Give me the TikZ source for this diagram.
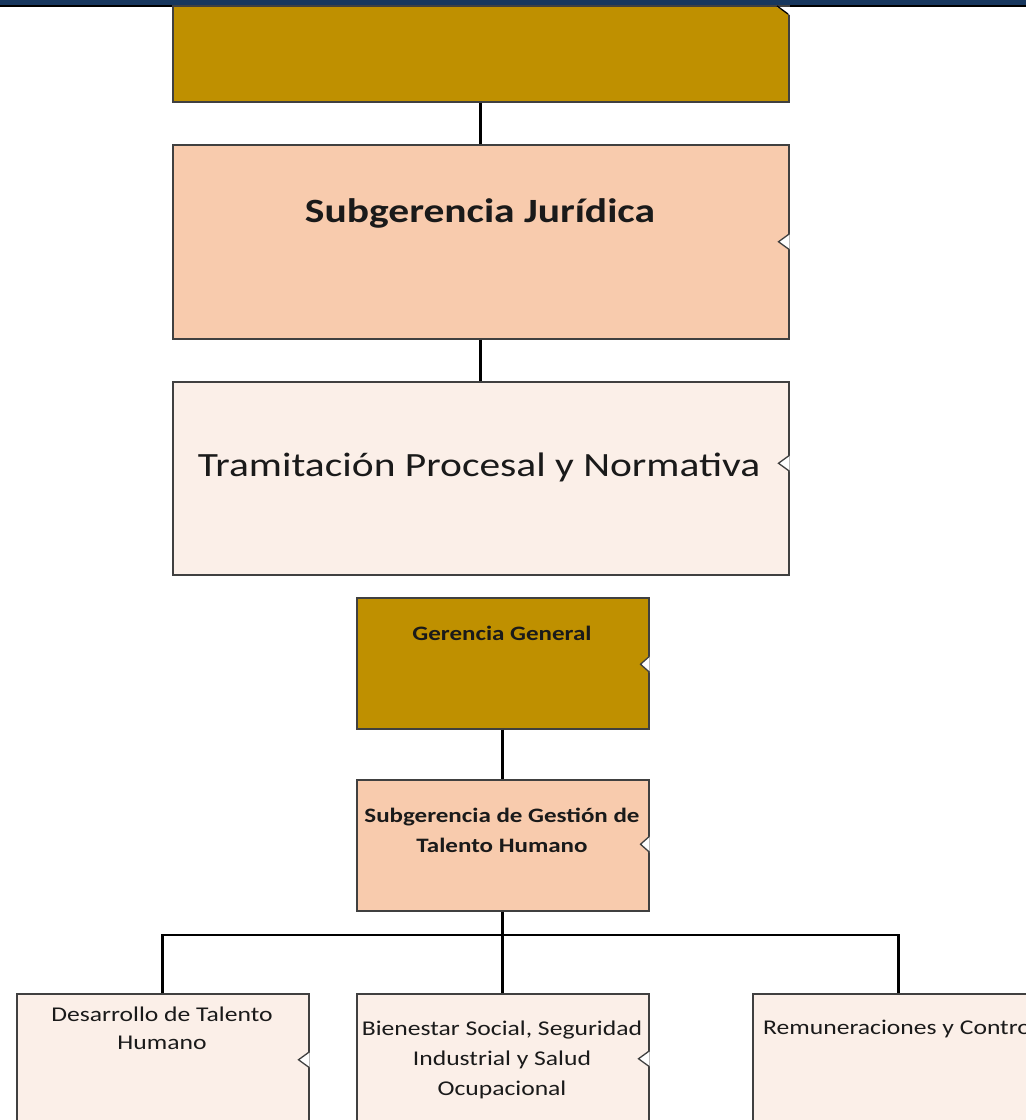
\documentclass[tikz,border=0pt]{standalone}
\usepackage{fontspec}
\setmainfont{Carlito}[FakeStretch=1.22]
\usetikzlibrary{calc}
\definecolor{navy}{HTML}{17375E}
\definecolor{gold}{HTML}{BF9000}
\definecolor{peach}{HTML}{F8CBAD}
\definecolor{light}{HTML}{FBEFE8}
\definecolor{boxline}{HTML}{404040}
\definecolor{txtcol}{HTML}{1A1A1A}
\tikzset{
  box/.style={draw=boxline, line width=1.5pt, anchor=north west, inner sep=0pt},
  conn/.style={line width=2.6pt, draw=black},
  txt/.style={text=txtcol, align=center, inner sep=0pt},
  notchline/.style={draw=boxline, line width=1.3pt, fill=white},
}
\begin{document}
\begin{tikzpicture}[x=1pt,y=-1pt]
\useasboundingbox (0,0) rectangle (1026,1120);
\clip (0,0) rectangle (1026,1120);
% top bar
\fill[navy] (0,0) rectangle (1026,5);
\fill[black] (0,5) rectangle (1026,7);
% boxes
\node[box, fill=gold, minimum width=616pt, minimum height=96pt] (gold) at (172,5) {};
\node[box, fill=peach, minimum width=616pt, minimum height=194pt] (jur) at (172,144) {};
\node[box, fill=light, minimum width=616pt, minimum height=193pt] (tram) at (172,381) {};
\node[box, fill=gold, minimum width=292pt, minimum height=131pt] (gg) at (356,597) {};
\node[box, fill=peach, minimum width=292pt, minimum height=131pt] (th) at (356,779) {};
\node[box, fill=light, minimum width=292pt, minimum height=140pt] (d1) at (16,993) {};
\node[box, fill=light, minimum width=292pt, minimum height=140pt] (d2) at (356,993) {};
\node[box, fill=light, minimum width=292pt, minimum height=140pt] (d3) at (752,993) {};
% corner cut on gold box
\fill[white] (777,7) -- (790,7) -- (790,15) -- cycle;
\draw[black, line width=1.3pt] (777,6) -- (788,14);
% notches
\draw[notchline] ($(jur.east)+(0,-8)$) -- ++(-11,8) -- ++(11,8);
\draw[notchline] ($(tram.east)+(0,-23)$) -- ++(-11,8) -- ++(11,8);
\draw[notchline] ($(gg.east)+(0,-7)$) -- ++(-9,8) -- ++(9,8);
\draw[notchline] ($(th.east)+(0,-9)$) -- ++(-9,8) -- ++(9,8);
\draw[notchline] ($(d1.east)+(0,-12)$) -- ++(-11,8) -- ++(11,8);
\draw[notchline] ($(d2.east)+(0,-13)$) -- ++(-11,8) -- ++(11,8);
% connectors
\coordinate (hub) at (502,935);
\draw[conn] (gold.south) -- (jur.north);
\draw[conn] (jur.south) -- (tram.north);
\draw[conn] (gg.south) -- (th.north);
\draw[conn] (th.south) -- (d2.north);
\draw[conn] (d1.north) |- (hub) -| (d3.north);
% texts
\node[txt, font=\bfseries\fontsize{34}{40}\selectfont] (jurT) at (480,213) {Subgerencia Jurídica};
\node[txt, font=\fontsize{34}{40}\selectfont] (tramT) at (479,467) {Tramitación Procesal y Normativa};
\node[txt, font=\bfseries\fontsize{20.5}{29}\selectfont] (ggT) at (502,633) {Gerencia General};
\node[txt, font=\bfseries\fontsize{20.5}{30}\selectfont] (thT) at (502,830) {Subgerencia de Gestión de\\Talento Humano};
\node[txt, font=\fontsize{21}{28}\selectfont] (d1T) at (162,1028) {Desarrollo de Talento\\Humano};
\node[txt, font=\fontsize{21}{30}\selectfont] (d2T) at (502,1060) {Bienestar Social, Seguridad\\Industrial y Salud\\Ocupacional};
\node[txt, font=\fontsize{21}{28}\selectfont, anchor=west] (d3T) at (763,1029) {Remuneraciones y Control};
\end{tikzpicture}
\end{document}
